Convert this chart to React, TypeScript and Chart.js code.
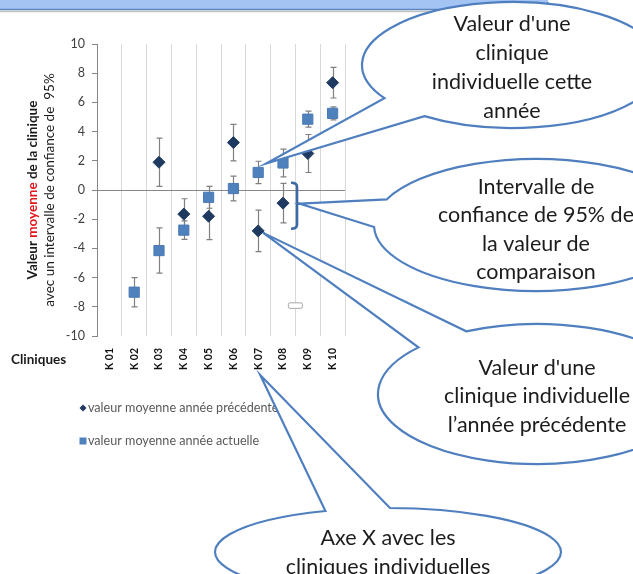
import React, { useEffect, useRef } from 'react';
import { Chart, registerables } from 'chart.js';

Chart.register(...registerables);

const FONT = 'Lato, "Open Sans", sans-serif';

// ---- data ----
const categories = ['K 01', 'K 02', 'K 03', 'K 04', 'K 05', 'K 06', 'K 07', 'K 08', 'K 09', 'K 10'];
const prevYearValues = [null, null, 1.9, -1.65, -1.8, 3.25, -2.8, -0.9, 2.5, 7.35];
const prevYearErrors = [null, null, 1.65, 1.05, 1.6, 1.25, 1.42, 1.35, 1.3, 1.05];
const currYearValues = [null, -7.0, -4.15, -2.75, -0.5, 0.1, 1.2, 1.85, 4.85, 5.25];
const currYearErrors = [null, 1.0, 1.55, 0.63, 0.75, 0.85, 0.77, 0.95, 0.55, 0.45];
const yMin = -10;
const yMax = 10;
const yStep = 2;
const seriesLabels = ['valeur moyenne année précédente', 'valeur moyenne année actuelle'];
const xAxisTitle = 'Cliniques';
const yTitleLine1 = ['Valeur ', 'moyenne', ' de la clinique'];
const yTitleLine2 = 'avec un intervalle de confiance de  95%';
const calloutCurrent = ["Valeur d'une", 'clinique', 'individuelle cette', 'année'];
const calloutInterval = ['Intervalle de', 'confiance de 95% de', 'la valeur de', 'comparaison'];
const calloutPrevious = ["Valeur d'une", 'clinique individuelle', 'l’année précédente'];
const calloutAxis = ['Axe X avec les', 'cliniques individuelles'];
const bracketRange = [0.5, -2.65];

const BLUE_LINE = '#4f7fbf';

function drawCallout(ctx, cx, cy, rx, ry, tip, baseA, baseB, lines, textX, lineY0, lineH) {
  const ta = Math.atan2((baseA[1] - cy) / ry, (baseA[0] - cx) / rx);
  const tb = Math.atan2((baseB[1] - cy) / ry, (baseB[0] - cx) / rx);
  let diff = tb - ta;
  while (diff > Math.PI) diff -= 2 * Math.PI;
  while (diff < -Math.PI) diff += 2 * Math.PI;
  ctx.save();
  ctx.beginPath();
  ctx.moveTo(tip[0], tip[1]);
  ctx.lineTo(cx + rx * Math.cos(ta), cy + ry * Math.sin(ta));
  ctx.ellipse(cx, cy, rx, ry, 0, ta, tb, diff > 0);
  ctx.closePath();
  ctx.fillStyle = '#ffffff';
  ctx.fill();
  ctx.strokeStyle = BLUE_LINE;
  ctx.lineWidth = 2.2;
  ctx.lineJoin = 'miter';
  ctx.stroke();
  ctx.fillStyle = '#1c1c1c';
  ctx.font = `21.5px ${FONT}`;
  ctx.textAlign = 'center';
  ctx.textBaseline = 'middle';
  lines.forEach((t, i) => ctx.fillText(t, textX, lineY0 + i * lineH));
  ctx.restore();
}

const errorBarPlugin = {
  id: 'errorBars',
  beforeDatasetsDraw(chart) {
    const { ctx, scales } = chart;
    const x = scales.x;
    const y = scales.y;
    const sets = [
      [prevYearValues, prevYearErrors],
      [currYearValues, currYearErrors],
    ];
    ctx.save();
    ctx.strokeStyle = '#808080';
    ctx.lineWidth = 1.2;
    sets.forEach(([vals, errs]) => {
      vals.forEach((v, i) => {
        if (v == null) return;
        const px = Math.round(x.getPixelForValue(i)) + 0.5;
        const top = y.getPixelForValue(v + errs[i]);
        const bot = y.getPixelForValue(v - errs[i]);
        ctx.beginPath();
        ctx.moveTo(px, top);
        ctx.lineTo(px, bot);
        ctx.moveTo(px - 3, top);
        ctx.lineTo(px + 3, top);
        ctx.moveTo(px - 3, bot);
        ctx.lineTo(px + 3, bot);
        ctx.stroke();
      });
    });
    ctx.restore();
  },
};

const decorPlugin = {
  id: 'decor',
  afterDraw(chart) {
    const { ctx, scales, chartArea } = chart;
    const x = scales.x;
    const y = scales.y;
    ctx.save();

    // top banner strip
    ctx.fillStyle = '#a4c5f4';
    ctx.beginPath();
    ctx.moveTo(0, 0);
    ctx.lineTo(548, 0);
    ctx.lineTo(548, 2);
    ctx.quadraticCurveTo(548, 9, 540, 9);
    ctx.lineTo(0, 9);
    ctx.closePath();
    ctx.fill();
    ctx.strokeStyle = '#5b86c0';
    ctx.lineWidth = 1.5;
    ctx.beginPath();
    ctx.moveTo(0, 9.5);
    ctx.lineTo(540, 9.5);
    ctx.quadraticCurveTo(548, 9.5, 548, 2);
    ctx.stroke();
    ctx.strokeStyle = 'rgba(120,120,120,0.45)';
    ctx.lineWidth = 1.5;
    ctx.beginPath();
    ctx.moveTo(0, 11.5);
    ctx.lineTo(538, 11.5);
    ctx.stroke();

    // y axis title
    ctx.save();
    ctx.translate(33, (chartArea.top + chartArea.bottom) / 2);
    ctx.rotate(-Math.PI / 2);
    ctx.textBaseline = 'middle';
    ctx.textAlign = 'left';
    ctx.font = `bold 13.5px ${FONT}`;
    const widths = yTitleLine1.map((t) => ctx.measureText(t).width);
    const total = widths.reduce((a, b) => a + b, 0);
    let cur = -total / 2;
    yTitleLine1.forEach((t, i) => {
      ctx.fillStyle = i === 1 ? '#e3161b' : '#1a1a1a';
      ctx.fillText(t, cur, 0);
      cur += widths[i];
    });
    ctx.font = `13.5px ${FONT}`;
    ctx.fillStyle = '#1a1a1a';
    ctx.textAlign = 'center';
    ctx.fillText(yTitleLine2, 0, 17);
    ctx.restore();

    // x axis title
    ctx.font = `bold 13.5px ${FONT}`;
    ctx.fillStyle = '#1a1a1a';
    ctx.textAlign = 'left';
    ctx.textBaseline = 'middle';
    ctx.fillText(xAxisTitle, 11, chartArea.bottom + 24);

    // legend
    const lx = 83;
    const ly1 = chartArea.bottom + 72;
    const ly2 = chartArea.bottom + 105;
    ctx.fillStyle = '#1f3a60';
    ctx.beginPath();
    ctx.moveTo(lx, ly1 - 3.5);
    ctx.lineTo(lx + 3.5, ly1);
    ctx.lineTo(lx, ly1 + 3.5);
    ctx.lineTo(lx - 3.5, ly1);
    ctx.closePath();
    ctx.fill();
    ctx.fillStyle = '#4f81bd';
    ctx.fillRect(lx - 3.5, ly2 - 3.5, 7, 7);
    ctx.font = `12.6px ${FONT}`;
    ctx.fillStyle = '#595959';
    ctx.fillText(seriesLabels[0], lx + 5, ly1);
    ctx.fillText(seriesLabels[1], lx + 5, ly2);

    // small empty marker box
    const bx = (x.getPixelForValue(7) + x.getPixelForValue(8)) / 2;
    const by = y.getPixelForValue(-7.9);
    ctx.fillStyle = '#ffffff';
    ctx.strokeStyle = '#a6a6a6';
    ctx.lineWidth = 1;
    ctx.beginPath();
    ctx.roundRect(bx - 7, by - 2.5, 14, 5.5, 1.5);
    ctx.fill();
    ctx.stroke();

    // bracket around the interval of K 08
    const brX = x.getPixelForValue(7) + 14;
    const brTop = y.getPixelForValue(bracketRange[0]);
    const brBot = y.getPixelForValue(bracketRange[1]);
    const brMid = (brTop + brBot) / 2 - 2;
    ctx.strokeStyle = '#3d6aa6';
    ctx.lineWidth = 2.6;
    ctx.beginPath();
    ctx.moveTo(brX - 6, brTop);
    ctx.quadraticCurveTo(brX, brTop, brX, brTop + 4);
    ctx.lineTo(brX, brBot - 4);
    ctx.quadraticCurveTo(brX, brBot, brX - 6, brBot);
    ctx.stroke();
    ctx.beginPath();
    ctx.moveTo(brX, brMid);
    ctx.lineTo(brX + 3, brMid);
    ctx.stroke();

    // callouts
    const k07 = 6;
    const sqX = x.getPixelForValue(k07);
    const sqY = y.getPixelForValue(currYearValues[k07]);
    const dmY = y.getPixelForValue(prevYearValues[k07]);

    drawCallout(ctx, 512, 65, 150, 63, [sqX + 8, sqY - 9], [423, 117], [385, 98], calloutCurrent, 512, 24, 29);
    drawCallout(ctx, 536, 225, 162, 66, [brX + 3, brMid], [390, 200], [376, 227], calloutInterval, 536, 187, 28.5);
    drawCallout(ctx, 537, 394, 159, 70, [sqX + 5, dmY + 2], [467, 332], [420, 348], calloutPrevious, 537, 368, 28.5);
    drawCallout(ctx, 388, 552, 173, 44, [sqX + 2, chartArea.bottom + 39], [327, 512], [390, 508], calloutAxis, 388, 538, 29);

    ctx.restore();
  },
};

export default function App() {
  const canvasRef = useRef(null);

  useEffect(() => {
    const canvas = canvasRef.current;
    if (!canvas) return;
    const chart = new Chart(canvas, {
      type: 'line',
      data: {
        labels: categories,
        datasets: [
          {
            label: seriesLabels[0],
            data: prevYearValues,
            showLine: false,
            pointStyle: 'rectRot',
            pointRadius: 6,
            pointHoverRadius: 6,
            backgroundColor: '#1f3a60',
            borderColor: '#1f3a60',
            borderWidth: 1,
          },
          {
            label: seriesLabels[1],
            data: currYearValues,
            showLine: false,
            pointStyle: 'rect',
            pointRadius: 7.2,
            pointHoverRadius: 7.2,
            backgroundColor: '#4f81bd',
            borderColor: '#4a7ab5',
            borderWidth: 1,
          },
        ],
      },
      options: {
        responsive: false,
        animation: false,
        devicePixelRatio: 1,
        layout: { padding: { left: 0, right: 288, top: 44, bottom: 198 } },
        plugins: {
          legend: { display: false },
          tooltip: { enabled: false },
        },
        scales: {
          x: {
            type: 'category',
            offset: true,
            grid: { offset: true, color: '#d9d9d9', drawTicks: false, lineWidth: 1 },
            border: { display: false },
            ticks: {
              autoSkip: false,
              minRotation: 90,
              maxRotation: 90,
              padding: 12,
              color: '#111111',
              font: { family: FONT, size: 10.5, weight: 'bold' },
            },
            afterFit: (s) => {
              s.height = 40;
            },
          },
          y: {
            min: yMin,
            max: yMax,
            ticks: {
              stepSize: yStep,
              color: '#404040',
              padding: 7,
              font: { family: FONT, size: 12.5 },
            },
            grid: {
              color: (c) => (c.tick && c.tick.value === 0 ? '#868686' : 'rgba(0,0,0,0)'),
              tickColor: '#868686',
              tickLength: 5,
              lineWidth: 1,
            },
            border: { color: '#868686', width: 1 },
            afterFit: (s) => {
              s.width = 97;
            },
          },
        },
      },
      plugins: [errorBarPlugin, decorPlugin],
    });
    return () => chart.destroy();
  }, []);

  return (
    <div style={{ position: 'absolute', left: 0, top: 0, width: 633, height: 574, background: '#ffffff', overflow: 'hidden' }}>
      <canvas ref={canvasRef} width={633} height={574} style={{ width: 633, height: 574, display: 'block' }} />
    </div>
  );
}
